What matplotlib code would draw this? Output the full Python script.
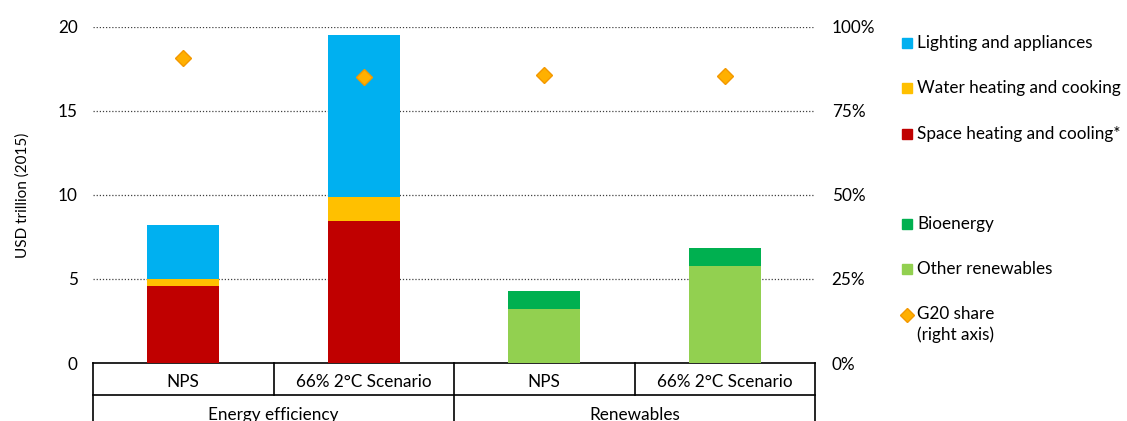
import matplotlib
matplotlib.use("Agg")
import matplotlib.pyplot as plt
from matplotlib.patches import Rectangle
from matplotlib.lines import Line2D
import numpy as np

plt.rcParams['font.family'] = ['Lato', 'DejaVu Sans']

categories = ["NPS", "66% 2°C Scenario", "NPS", "66% 2°C Scenario"]
groups = ["Energy efficiency", "Renewables"]

# Energy efficiency stacks (USD trillion 2015)
space_heating = [4.6, 8.45, 0, 0]
water_heating = [0.4, 1.4, 0, 0]
lighting = [3.2, 9.65, 0, 0]
# Renewables stacks
other_renew = [0, 0, 3.2, 5.77]
bioenergy = [0, 0, 1.07, 1.08]
# G20 share (right axis)
g20_share = [0.908, 0.85, 0.857, 0.853]

c_light = "#00B0F0"
c_water = "#FFC000"
c_space = "#C00000"
c_bio = "#00B050"
c_other = "#92D050"
c_dia = "#FFB000"
c_dia_edge = "#F39800"

FS = 12.3
W, H = 1127, 421
fig = plt.figure(figsize=(W / 100, H / 100), dpi=100)
ax = fig.add_axes([93 / W, 1 - 363 / H, (815 - 93) / W, (363 - 26.7) / H])

x = np.arange(len(categories))
bw = 0.4
mask_ee = np.array([1, 1, 0, 0], bool)
mask_re = ~mask_ee
sp = np.array(space_heating); wh = np.array(water_heating); li = np.array(lighting)
orr = np.array(other_renew); bi = np.array(bioenergy)

ax.bar(x[mask_ee], sp[mask_ee], bw, color=c_space, zorder=3)
ax.bar(x[mask_ee], wh[mask_ee], bw, bottom=sp[mask_ee], color=c_water, zorder=3)
ax.bar(x[mask_ee], li[mask_ee], bw, bottom=(sp + wh)[mask_ee], color=c_light, zorder=3)
ax.bar(x[mask_re], orr[mask_re], bw, color=c_other, zorder=3)
ax.bar(x[mask_re], bi[mask_re], bw, bottom=orr[mask_re], color=c_bio, zorder=3)

ax.set_xlim(-0.5, 3.5)
ax.set_ylim(0, 20)
ax.set_yticks([0, 5, 10, 15, 20])
for yv in [5, 10, 15, 20]:
    ax.axhline(yv, color="#404040", lw=0.9, ls=(0, (1, 1.5)), zorder=1)
for s in ["top", "right", "left"]:
    ax.spines[s].set_visible(False)
ax.spines["bottom"].set_color("black")
ax.spines["bottom"].set_linewidth(1.2)
ax.tick_params(axis="y", length=0, labelsize=FS, pad=11)
ax.tick_params(axis="x", length=0, labelbottom=False)
ax.set_ylabel("USD trillion (2015)", fontsize=11, labelpad=20)

ax2 = ax.twinx()
ax2.set_ylim(0, 1)
ax2.set_yticks([0, 0.25, 0.5, 0.75, 1.0])
ax2.set_yticklabels(["0%", "25%", "50%", "75%", "100%"])
ax2.tick_params(axis="y", length=0, labelsize=FS, pad=12)
for s in ax2.spines.values():
    s.set_visible(False)
ax2.plot(x, g20_share, ls="none", marker="D", ms=8, mfc=c_dia, mec=c_dia_edge, mew=1, zorder=4)

# Category labels and grouping lines
trans = ax.get_xaxis_transform()
axh = (363 - 26.7)
def yfrac(py):
    return (363 - py) / axh
for xi, lab in zip(x, categories):
    ax.text(xi, yfrac(382), lab, transform=trans, ha="center", va="center", fontsize=FS)
for xb, ybot in [(-0.5, 430), (0.5, 395), (1.5, 430), (2.5, 395), (3.5, 430)]:
    ax.plot([xb, xb], [0, yfrac(ybot)], transform=trans, color="black", lw=1.2, clip_on=False)
ax.plot([-0.5, 3.5], [yfrac(395), yfrac(395)], transform=trans, color="black", lw=1.2, clip_on=False)
for gi, g in enumerate(groups):
    ax.text(0.5 + 2 * gi, yfrac(415), g, transform=trans, ha="center", va="center", fontsize=FS)

# Legend (manual)
entries = [
    ("Lighting and appliances", c_light, 43, "sq"),
    ("Water heating and cooking", c_water, 88, "sq"),
    ("Space heating and cooling*", c_space, 134, "sq"),
    ("Bioenergy", c_bio, 224, "sq"),
    ("Other renewables", c_other, 269, "sq"),
    ("G20 share\n(right axis)", c_dia, 315, "dia"),
]
for lab, col, py, kind in entries:
    fy = 1 - py / H
    if kind == "sq":
        fig.add_artist(Rectangle((902 / W, fy - 5 / H), 10 / W, 10 / H, color=col, transform=fig.transFigure))
        fig.text(917 / W, fy, lab, ha="left", va="center", fontsize=FS)
    else:
        fig.add_artist(Line2D([907 / W], [fy], marker="D", ms=7, mfc=col, mec=c_dia_edge, mew=1, ls="none", transform=fig.transFigure))
        fig.text(917 / W, fy + 9 / H, lab, ha="left", va="top", fontsize=FS, linespacing=1.35)

fig.savefig("out.png", dpi=100)
